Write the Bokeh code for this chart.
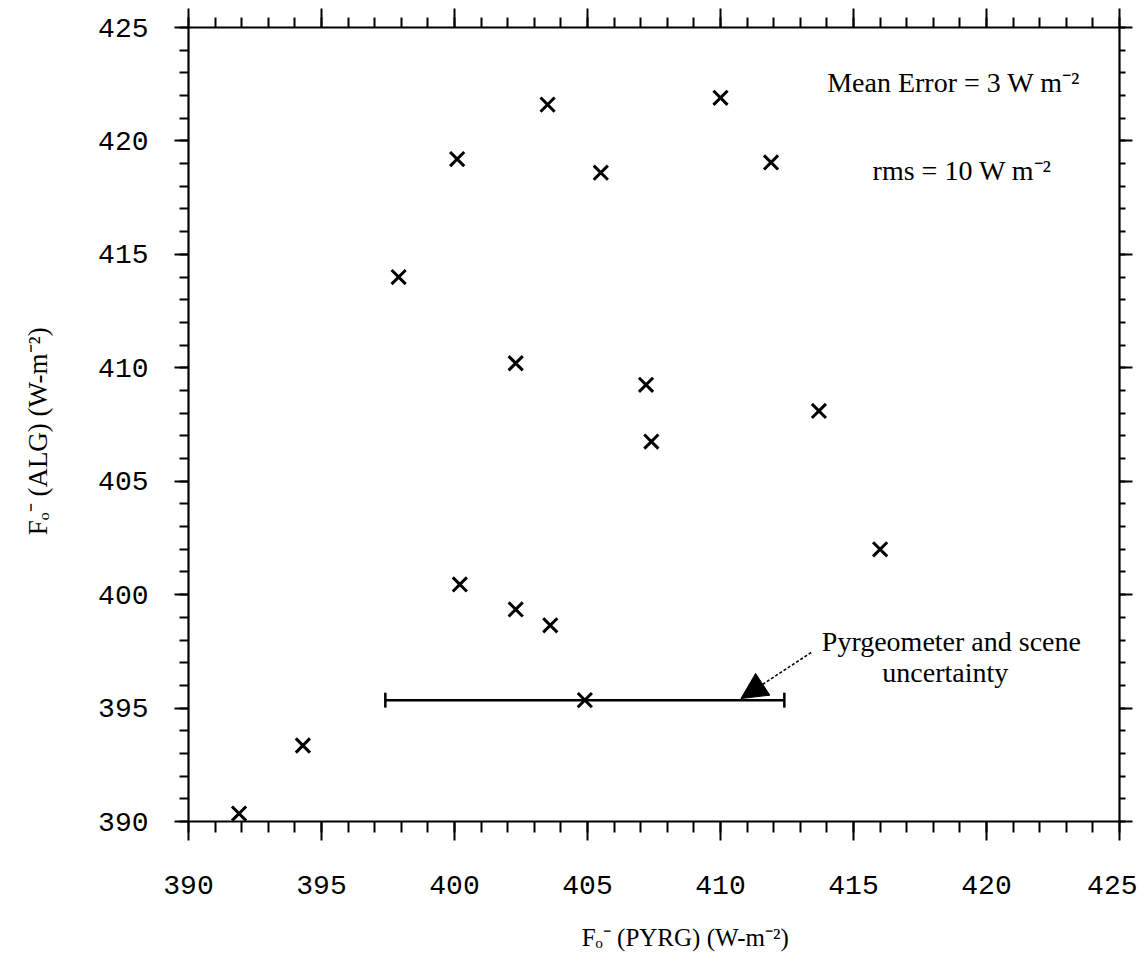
from bokeh.plotting import figure
from bokeh.models import (Range1d, LinearAxis, SingleIntervalTicker, Label, Arrow,
                          NormalHead, Whisker, TeeHead, ColumnDataSource, CustomLabelingPolicy)
from bokeh.embed import file_html
from bokeh.resources import INLINE

# ---- data ----
pyrg = [391.9, 394.3, 397.9, 400.1, 400.2, 402.3, 402.3, 403.5, 403.6, 404.9,
        405.5, 407.2, 407.4, 410.0, 411.9, 413.7, 416.0]
alg = [390.35, 393.35, 414.0, 419.2, 400.45, 399.35, 410.2, 421.6, 398.65, 395.35,
       418.6, 409.25, 406.75, 421.9, 419.05, 408.1, 402.0]

err_y = [395.35]
err_lo = [397.4]
err_hi = [412.4]

tick_interval = 5
axis_min, axis_max = 390, 425

x_label = "\u2003\u2003\u2002Fₒ⁻ (PYRG) (W-m⁻²)"
y_label = "Fₒ⁻  (ALG)  (W-m⁻²)"

# ---- figure ----
p = figure(width=1137, height=968,
           x_range=Range1d(axis_min, axis_max), y_range=Range1d(axis_min, axis_max),
           output_backend="svg", toolbar_location=None,
           min_border_left=188, min_border_right=18, min_border_top=27, min_border_bottom=147)
p.xgrid.visible = False
p.ygrid.visible = False
p.outline_line_color = None
p.background_fill_color = "white"
p.border_fill_color = "white"

x_bottom = p.below[0]
y_left = p.left[0]

def style_axis(ax, major_out, minor_out, show_labels, standoff):
    ax.ticker = SingleIntervalTicker(interval=tick_interval, num_minor_ticks=5)
    ax.axis_line_width = 2.2
    ax.axis_line_color = "black"
    ax.major_tick_line_width = 2
    ax.minor_tick_line_width = 2
    ax.major_tick_line_color = "black"
    ax.minor_tick_line_color = "black"
    ax.major_tick_out = major_out
    ax.major_tick_in = 0
    ax.minor_tick_out = minor_out
    ax.minor_tick_in = 0
    if show_labels:
        ax.major_label_text_font = "Liberation Mono"
        ax.major_label_text_font_size = "28px"
        ax.major_label_text_color = "black"
        ax.major_label_standoff = standoff
    else:
        ax.major_label_policy = CustomLabelingPolicy(code="return new Set()")
        ax.major_label_text_font_size = "1px"
        ax.major_label_standoff = 0

style_axis(x_bottom, 19, 11, True, 35)
style_axis(y_left, 14, 9, True, 26)
top = LinearAxis()
style_axis(top, 19, 10, False, 0)
right = LinearAxis()
style_axis(right, 13, 6, False, 0)
p.add_layout(top, "above")
p.add_layout(right, "right")

for ax, txt, size, so in ((x_bottom, x_label, "25px", 27), (y_left, y_label, "27px", 42)):
    ax.axis_label = txt
    ax.axis_label_text_font = "Liberation Serif"
    ax.axis_label_text_font_size = size
    ax.axis_label_text_font_style = "normal"
    ax.axis_label_text_color = "black"
    ax.axis_label_standoff = so

# ---- points ----
p.scatter(pyrg, alg, marker="x", size=20, line_width=3, line_color="black")

# ---- uncertainty bar ----
src = ColumnDataSource(dict(y=err_y, lo=err_lo, hi=err_hi))
p.add_layout(Whisker(source=src, base="y", lower="lo", upper="hi", dimension="width",
                     line_width=2.5, line_color="black",
                     lower_head=TeeHead(size=15, line_width=2.5, line_color="black"),
                     upper_head=TeeHead(size=15, line_width=2.5, line_color="black")))

# ---- annotations ----
serif = "Liberation Serif"
def lab(x, y, text, size):
    p.add_layout(Label(x=x, y=y, text=text, text_font=serif, text_font_size=size,
                       text_align="center", text_baseline="middle", text_color="black"))

lab(418.9, 422.58, "Mean Error  = 3 W m⁻²", "28px")
lab(419.09, 418.70, "rms = 10 W m⁻²", "28px")
lab(418.68, 397.94, "Pyrgeometer and scene", "28px")
lab(418.45, 396.57, "uncertainty", "28px")

p.add_layout(Arrow(x_start=413.41, y_start=397.45, x_end=410.77, y_end=395.42,
                   line_width=1.6, line_dash="3 2", line_color="black",
                   end=NormalHead(size=26, fill_color="black", line_color="black", line_width=1)))

open("out.html", "w").write(file_html(p, INLINE))
